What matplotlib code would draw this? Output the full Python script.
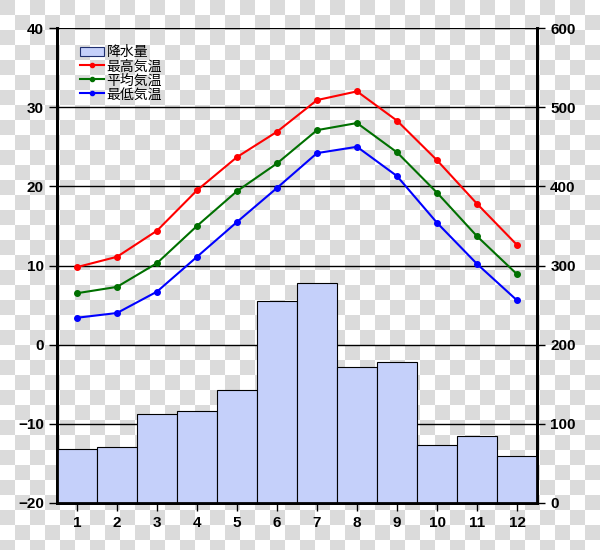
import matplotlib
matplotlib.use('Agg')
import matplotlib.pyplot as plt
from matplotlib.patches import Patch
from matplotlib.lines import Line2D
import numpy as np

# chart data
months = [1, 2, 3, 4, 5, 6, 7, 8, 9, 10, 11, 12]
precip = [68, 71, 112, 116, 143, 255, 278, 172, 178, 73, 85, 59]
temp_max = [9.8, 11.1, 14.4, 19.5, 23.7, 26.9, 30.9, 32.0, 28.3, 23.3, 17.8, 12.6]
temp_mean = [6.5, 7.3, 10.3, 15.0, 19.4, 22.9, 27.1, 28.0, 24.3, 19.2, 13.7, 8.9]
temp_min = [3.4, 4.0, 6.7, 11.1, 15.5, 19.8, 24.2, 25.0, 21.3, 15.4, 10.2, 5.6]
labels = ['降水量', '最高気温', '平均気温', '最低気温']

tick_font = ['Liberation Sans Narrow', 'Liberation Sans', 'DejaVu Sans']
jp_font = ['Noto Sans CJK JP', 'DejaVu Sans']

fig = plt.figure(figsize=(6, 5.5), dpi=100)

# transparent-background checker pattern
sq = 15
yy, xx = np.mgrid[0:550, 0:600]
checker = ((xx // sq + yy // sq) % 2).astype(float)
bg = np.where(checker[..., None] == 1, 1.0, 0.86) * np.ones((1, 1, 3))
fig.figimage(bg, xo=0, yo=0, zorder=-1)

ax_t = fig.add_axes([0.095, 0.0855, 0.8, 0.8635])
ax_t.set_facecolor('none')
ax_p = ax_t.twinx()
ax_t.set_zorder(2)
ax_p.set_zorder(1)

# precipitation bars (right axis)
ax_p.bar(months, precip, width=1.0, color='#c5d0fa', edgecolor='black', linewidth=0.8, zorder=3)
ax_p.set_ylim(0, 600)
ax_p.set_yticks(range(0, 601, 100))

# temperature grid + lines (left axis)
ax_t.set_ylim(-20, 40)
ax_t.set_xlim(0.5, 12.5)
ax_t.set_yticks(range(-20, 41, 10))
ax_t.set_xticks(months)
for v in range(-10, 41, 10):
    ax_p.axhline(v * 10 + 200, color='black', linewidth=1.0, zorder=1)

ax_t.plot(months, temp_max, color='#ff0000', marker='o', markersize=4, linewidth=1.5)
ax_t.plot(months, temp_mean, color='#007000', marker='o', markersize=4, linewidth=1.5)
ax_t.plot(months, temp_min, color='#0000ff', marker='o', markersize=4, linewidth=1.5)

for a in (ax_t, ax_p):
    a.spines['top'].set_visible(False)
    for s in ('left', 'right', 'bottom'):
        a.spines[s].set_linewidth(2)
    a.tick_params(direction='out', length=6, width=1, labelsize=11)
    for lab in a.get_xticklabels() + a.get_yticklabels():
        lab.set_family(tick_font)
        lab.set_fontweight('bold')

handles = [
    Patch(facecolor='#c5d0fa', edgecolor='#1f2f6f', linewidth=0.8),
    Line2D([], [], color='#ff0000', marker='o', markersize=3, linewidth=1.5),
    Line2D([], [], color='#007000', marker='o', markersize=3, linewidth=1.5),
    Line2D([], [], color='#0000ff', marker='o', markersize=3, linewidth=1.5),
]
ax_t.legend(handles, labels, loc='upper left', bbox_to_anchor=(0.025, 0.987), frameon=False,
            prop={'family': jp_font, 'size': 10}, handlelength=1.7, labelspacing=0.0,
            handletextpad=0.2, borderpad=0.3)

fig.savefig('out.png', dpi=100)
